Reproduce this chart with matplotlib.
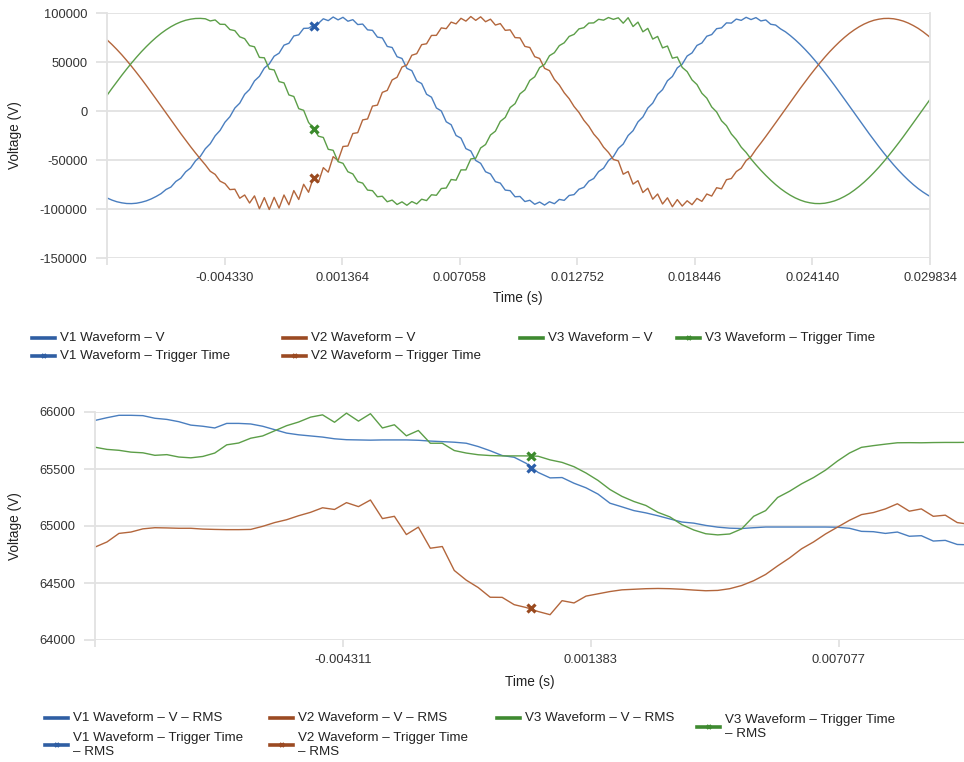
import numpy as np
import matplotlib
matplotlib.use("Agg")
import matplotlib.pyplot as plt
from matplotlib.lines import Line2D

plt.rcParams['font.family'] = ['Liberation Sans', 'DejaVu Sans']
plt.rcParams['axes.unicode_minus'] = False

# ---- top chart: phase voltages, kV, sampled every 0.2381 ms from t = -0.010024 s
t_top0 = -0.010024
dt_top = 0.0002381
v1_kv = [-88.7, -90.9, -92.6, -93.7, -94.4, -94.5, -94.1, -93.1, -91.7, -89.7,
         -87.2, -84.3, -80.1, -77.6, -71.9, -68.6, -62.1, -58.1, -50.9, -46.2,
         -38.5, -33.4, -25.3, -19.8, -11.4, -5.8, 3.0, 8.0, 17.0, 22.0,
         30.7, 35.4, 43.8, 48.0, 55.9, 59.0, 67.2, 69.1, 76.6, 77.7,
         84.3, 84.5, 87.5, 89.4, 94.1, 92.2, 95.9, 93.0, 95.6, 91.6,
         93.2, 88.2, 88.7, 82.8, 82.3, 75.4, 74.6, 65.9, 64.8, 55.4,
         53.6, 43.5, 41.2, 30.7, 28.0, 17.1, 14.1, 3.1, 0.0, -11.0,
         -14.0, -25.0, -27.7, -38.4, -40.8, -50.5, -53.4, -62.0, -64.2, -72.1,
         -73.6, -80.7, -81.3, -87.5, -87.2, -92.4, -91.1, -95.2, -92.9, -96.0,
         -92.6, -94.6, -90.2, -91.2, -86.2, -85.3, -79.8, -77.9, -71.6, -68.9,
         -61.8, -58.4, -50.6, -46.5, -38.2, -33.7, -25.0, -20.1, -11.1, -6.1,
         3.0, 8.0, 17.0, 21.8, 30.9, 35.2, 44.0, 47.8, 56.1, 59.3,
         66.9, 69.4, 76.3, 78.0, 84.0, 84.8, 89.9, 89.7, 93.8, 92.5,
         95.6, 93.3, 95.3, 91.9, 92.9, 88.5, 87.7, 83.8, 80.8, 76.9,
         72.6, 67.9, 62.8, 57.4, 51.6, 45.5, 39.2, 32.7, 26.0, 19.1,
         12.1, 5.1, -2.0, -9.0, -16.0, -23.0, -29.7, -36.4, -42.8, -49.0,
         -54.9, -60.5, -65.7, -70.6, -75.1, -79.2, -82.8, -86.0, -88.7]
v2_kv = [72.6, 67.9, 62.8, 57.4, 51.6, 45.5, 39.2, 32.7, 26.0, 19.1,
         12.1, 5.1, -2.0, -9.0, -16.0, -23.0, -29.7, -36.4, -42.8, -49.0,
         -54.9, -61.5, -64.7, -71.6, -74.1, -80.2, -79.8, -89.0, -85.7, -93.9,
         -86.6, -99.7, -88.4, -100.5, -88.1, -99.1, -85.7, -95.7, -81.2, -90.3,
         -74.8, -82.9, -67.6, -72.9, -57.8, -62.4, -46.6, -50.5, -36.2, -35.7,
         -23.0, -22.1, -9.1, -8.1, 5.0, 6.0, 19.0, 21.0, 31.7, 34.4,
         44.8, 47.0, 56.9, 58.5, 67.7, 68.6, 77.1, 77.2, 84.8, 84.0,
         90.7, 88.9, 94.6, 91.7, 96.4, 92.5, 96.1, 91.1, 93.7, 87.7,
         89.2, 82.3, 82.8, 74.9, 74.6, 65.9, 64.8, 55.4, 53.6, 43.5,
         41.2, 32.2, 26.5, 18.6, 12.6, 4.6, -1.5, -9.5, -15.5, -23.5,
         -29.2, -36.9, -42.3, -49.5, -50.9, -64.5, -61.7, -74.6, -71.1, -83.2,
         -78.8, -90.0, -84.7, -94.9, -88.6, -97.7, -90.4, -97.0, -91.6, -95.6,
         -89.2, -92.2, -84.7, -86.8, -78.3, -79.4, -70.1, -68.9, -61.8, -58.4,
         -50.6, -46.5, -39.2, -32.7, -26.0, -19.1, -12.1, -5.1, 2.0, 9.0,
         16.0, 23.0, 29.7, 36.4, 42.8, 49.0, 54.9, 60.5, 65.7, 70.6,
         75.1, 79.2, 82.8, 86.0, 88.7, 90.9, 92.6, 93.7, 94.4, 94.5,
         94.1, 93.1, 91.7, 89.7, 87.2, 84.3, 80.8, 76.9, 72.6]
v3_kv = [16.0, 23.0, 29.7, 36.4, 42.8, 49.0, 54.9, 60.5, 65.7, 70.6,
         75.1, 79.2, 82.8, 86.0, 88.7, 90.9, 92.6, 93.7, 94.4, 94.5,
         94.1, 91.9, 92.9, 88.5, 88.4, 83.1, 82.0, 75.7, 73.8, 66.7,
         65.5, 54.7, 54.3, 42.8, 41.9, 30.0, 28.7, 16.4, 14.8, 2.4,
         0.7, -11.7, -17.5, -25.7, -27.0, -39.1, -40.1, -51.7, -53.4, -62.0,
         -64.2, -72.1, -73.6, -80.7, -81.3, -87.5, -87.0, -92.6, -90.9, -95.4,
         -92.7, -96.2, -92.4, -94.8, -90.0, -91.4, -85.5, -86.0, -79.1, -78.6,
         -69.9, -70.6, -60.1, -60.1, -48.9, -48.2, -37.7, -34.2, -24.5, -20.6,
         -10.6, -6.6, 3.5, 7.5, 17.5, 21.5, 31.2, 34.9, 44.3, 47.5,
         56.4, 59.5, 66.7, 69.6, 76.1, 78.2, 83.8, 85.0, 89.7, 89.9,
         93.6, 92.7, 95.4, 93.5, 95.1, 89.6, 95.2, 86.2, 90.7, 80.8,
         84.3, 73.4, 76.1, 64.4, 66.3, 53.9, 55.1, 44.5, 40.2, 31.7,
         27.0, 18.1, 13.1, 4.1, -1.0, -10.0, -15.0, -23.5, -29.2, -36.9,
         -42.3, -49.0, -54.9, -60.5, -65.7, -70.6, -75.1, -79.2, -82.8, -86.0,
         -88.7, -90.9, -92.6, -93.7, -94.4, -94.5, -94.1, -93.1, -91.7, -89.7,
         -87.2, -84.3, -80.8, -76.9, -72.6, -67.9, -62.8, -57.4, -51.6, -45.5,
         -39.2, -32.7, -26.0, -19.1, -12.1, -5.1, 2.0, 9.0, 16.0]
trig_t = 0.0
trig_v = [87000, -68000, -18000]          # V1, V2, V3 at trigger

# ---- bottom chart: RMS, V, sampled every 0.275 ms from t = -0.010005 s
t_rms0 = -0.010005
dt_rms = 0.000275
rms1 = [65926, 65950, 65971, 65971, 65968, 65945, 65935, 65915, 65885, 65875,
        65860, 65900, 65900, 65895, 65875, 65845, 65815, 65800, 65790, 65780,
        65765, 65757, 65755, 65753, 65755, 65755, 65755, 65752, 65745, 65740,
        65735, 65726, 65697, 65660, 65618, 65603, 65550, 65470, 65422, 65425,
        65375, 65335, 65280, 65200, 65168, 65135, 65115, 65090, 65062, 65035,
        65025, 65005, 64990, 64981, 64978, 64985, 64991, 64991, 64991, 64991,
        64991, 64991, 64989, 64980, 64953, 64950, 64935, 64947, 64910, 64915,
        64868, 64874, 64838, 64835]
rms2 = [64815, 64860, 64935, 64947, 64975, 64985, 64983, 64980, 64980, 64973,
        64970, 64968, 64968, 64970, 64997, 65030, 65055, 65090, 65120, 65160,
        65145, 65205, 65170, 65228, 65065, 65085, 64925, 64990, 64805, 64820,
        64610, 64525, 64460, 64375, 64374, 64310, 64285, 64250, 64222, 64345,
        64325, 64385, 64405, 64425, 64440, 64445, 64450, 64452, 64450, 64445,
        64438, 64432, 64435, 64450, 64478, 64520, 64575, 64650, 64720, 64800,
        64860, 64930, 64990, 65050, 65100, 65118, 65150, 65195, 65130, 65150,
        65085, 65095, 65030, 65015]
rms3 = [65691, 65672, 65664, 65648, 65642, 65620, 65626, 65605, 65598, 65610,
        65640, 65712, 65728, 65770, 65790, 65835, 65880, 65912, 65955, 65975,
        65910, 65990, 65920, 65985, 65860, 65888, 65791, 65838, 65726, 65726,
        65662, 65640, 65625, 65618, 65615, 65615, 65615, 65612, 65580, 65558,
        65520, 65465, 65400, 65320, 65260, 65215, 65180, 65120, 65080, 65012,
        64965, 64932, 64922, 64930, 64975, 65085, 65135, 65250, 65305, 65370,
        65425, 65490, 65570, 65640, 65690, 65705, 65718, 65730, 65731, 65730,
        65732, 65733, 65733, 65734]
trig_rms = [65512, 64285, 65612]

top_ticks = ['', '-0.004330', '0.001364', '0.007058', '0.012752', '0.018446', '0.024140', '0.029834']
bot_ticks = ['', '-0.004311', '0.001383', '0.007077']
tick_step = 0.005694

line_cols = ['#4a7ebf', '#b3663c', '#5c9e48']
mark_cols = ['#2b5ea9', '#9a4a1f', '#3b8a2c']
leg_cols = ['#2f5ea3', '#9b4a22', '#3e8a30']
grid_col = '#e2e2e2'
text_col = '#333333'

W, H = 964, 762
fig = plt.figure(figsize=(W / 100, H / 100), dpi=100)

def px_axes(l, t, r, b):
    return fig.add_axes([l / W, 1 - b / H, (r - l) / W, (b - t) / H])

def style(ax):
    ax.grid(axis='y', color=grid_col, lw=1.3)
    ax.set_axisbelow(True)
    for s in ['top', 'bottom']:
        ax.spines[s].set_visible(False)
    ax.spines['left'].set_color(grid_col)
    ax.spines['left'].set_linewidth(1.3)
    ax.spines['right'].set_color(grid_col)
    ax.spines['right'].set_linewidth(1.3)
    ax.tick_params(axis='y', length=8, width=1.3, color=grid_col, labelsize=9.3,
                   labelcolor=text_col, pad=6)
    ax.tick_params(axis='x', length=5, width=1.3, color=grid_col, labelsize=9.3,
                   labelcolor=text_col, pad=5)

# top
ax1 = px_axes(107, 13, 930, 258)
t1 = t_top0 + dt_top * np.arange(len(v1_kv))
for v, c in zip([v1_kv, v2_kv, v3_kv], line_cols):
    ax1.plot(t1, np.array(v) * 1000, color=c, lw=1.0)
for v, c in zip(trig_v, mark_cols):
    ax1.plot([trig_t], [v], marker='x', ms=6, mew=2.3, color=c, ls='none')
ax1.set_xlim(t_top0, t_top0 + 7 * tick_step)
ax1.set_ylim(-150000, 100000)
ax1.set_yticks(np.arange(-150000, 100001, 50000))
ax1.set_xticks(t_top0 + tick_step * np.arange(len(top_ticks)))
ax1.set_xticklabels(top_ticks)
style(ax1)

# bottom
ax2 = px_axes(95, 412, 964, 640)
t2 = t_rms0 + dt_rms * np.arange(len(rms1))
for v, c in zip([rms1, rms2, rms3], line_cols):
    ax2.plot(t2, v, color=c, lw=1.0)
for v, c in zip(trig_rms, mark_cols):
    ax2.plot([trig_t], [v], marker='x', ms=6, mew=2.3, color=c, ls='none')
ax2.set_xlim(t_rms0, 0.00995)
ax2.set_ylim(64000, 66000)
ax2.set_yticks(np.arange(64000, 66001, 500))
ax2.set_xticks(t_rms0 + tick_step * np.arange(len(bot_ticks)))
ax2.set_xticklabels(bot_ticks)
style(ax2)
ax2.spines['right'].set_visible(False)

# axis titles
def ftext(x, y, s, **kw):
    fig.text(x / W, 1 - y / H, s, color='#222222', **kw)

ftext(15, 135, 'Voltage (V)', rotation=90, ha='center', va='center', fontsize=9.8)
ftext(518, 298, 'Time (s)', ha='center', va='center', fontsize=9.8)
ftext(15, 526, 'Voltage (V)', rotation=90, ha='center', va='center', fontsize=9.8)
ftext(530, 682, 'Time (s)', ha='center', va='center', fontsize=9.8)

# legends
def leg_item(x, y, col, label, trig, hlen=23):
    y0 = 1 - y / H
    fig.add_artist(Line2D([x / W, (x + hlen) / W], [y0, y0], color=col, lw=2.6,
                          transform=fig.transFigure))
    if trig:
        fig.add_artist(Line2D([(x + hlen / 2) / W], [y0], color=col, marker='x',
                              ms=3.5, mew=1.5, transform=fig.transFigure))
    fig.text((x + hlen + 5) / W, y0, label, ha='left', va='center', fontsize=9.6,
             color='#222222', linespacing=1.25)

leg_item(32, 338, leg_cols[0], 'V1 Waveform – V', False)
leg_item(283, 338, leg_cols[1], 'V2 Waveform – V', False)
leg_item(520, 338, leg_cols[2], 'V3 Waveform – V', False)
leg_item(677, 338, leg_cols[2], 'V3 Waveform – Trigger Time', True)
leg_item(32, 356, leg_cols[0], 'V1 Waveform – Trigger Time', True)
leg_item(283, 356, leg_cols[1], 'V2 Waveform – Trigger Time', True)

leg_item(45, 718, leg_cols[0], 'V1 Waveform – V – RMS', False)
leg_item(270, 718, leg_cols[1], 'V2 Waveform – V – RMS', False)
leg_item(497, 718, leg_cols[2], 'V3 Waveform – V – RMS', False)
leg_item(697, 727, leg_cols[2], 'V3 Waveform – Trigger Time\n– RMS', True)
leg_item(45, 745, leg_cols[0], 'V1 Waveform – Trigger Time\n– RMS', True)
leg_item(270, 745, leg_cols[1], 'V2 Waveform – Trigger Time\n– RMS', True)

fig.savefig('out.png', dpi=100)
